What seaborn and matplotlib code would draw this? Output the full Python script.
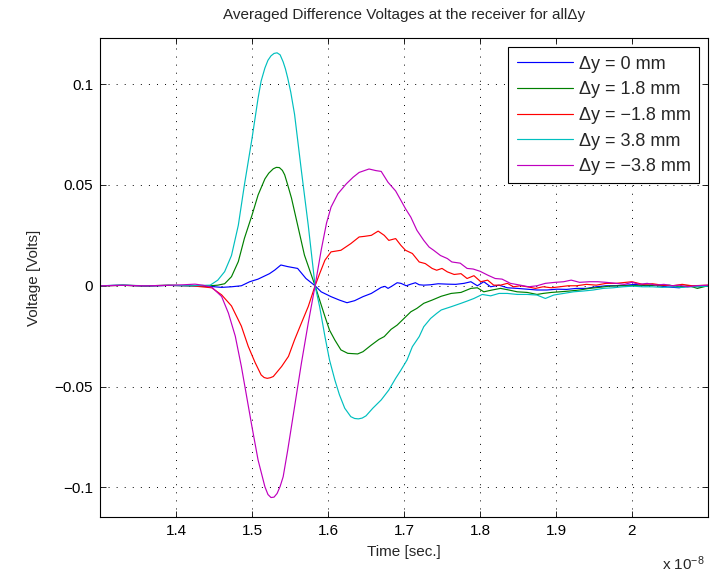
import numpy as np
import pandas as pd
import matplotlib
matplotlib.use("Agg")
import matplotlib.pyplot as plt
import seaborn as sns

# ---------------- data (time in units of 1e-8 s, voltage in V) ----------------
t_0mm = [1.30, 1.33, 1.36, 1.39, 1.42, 1.445, 1.46, 1.473, 1.486, 1.497, 1.508, 1.523, 1.530,
         1.538, 1.547, 1.560, 1.571, 1.583, 1.591, 1.604, 1.615, 1.625, 1.635, 1.646, 1.657,
         1.67, 1.675, 1.679, 1.684, 1.691, 1.696, 1.703, 1.709, 1.715, 1.72, 1.726, 1.735,
         1.745, 1.757, 1.768, 1.779, 1.788, 1.7965, 1.805, 1.814, 1.825, 1.836, 1.849, 1.862,
         1.875, 1.888, 1.901, 1.914, 1.927, 1.94, 1.953, 1.966, 1.979, 1.992, 2.005, 2.018,
         2.031, 2.044, 2.062, 2.075, 2.088, 2.1]
v_0mm = [0.0, 0.0003, -0.0002, 0.0002, 0.0, -0.0003, -0.0008, -0.0005, 0.0, 0.002, 0.0033, 0.006,
         0.0078, 0.0103, 0.0095, 0.0086, 0.0036, 0.0, -0.003, -0.0054, -0.0071, -0.0084, -0.0074,
         -0.0054, -0.0038, -0.0008, -0.0003, -0.0013, -0.0002, 0.0015, 0.0012, 0.0, 0.0008,
         0.0015, 0.0005, 0.0003, 0.0005, 0.0010, 0.0008, 0.0007, 0.0012, 0.002, 0.0, 0.002,
         -0.0005, 0.0003, -0.001, -0.0013, -0.0017, -0.0021, -0.0021, -0.0017, -0.0018, -0.0013,
         -0.0013, -0.0005, 0.0, 0.0, 0.0003, 0.0007, 0.0, 0.0003, -0.0005, -0.001, 0.0, -0.0005, 0.0]

t_p18 = [1.30, 1.33, 1.36, 1.39, 1.42, 1.445, 1.455, 1.464, 1.473, 1.482, 1.490, 1.5, 1.508,
         1.517, 1.522, 1.528, 1.532, 1.536, 1.540, 1.543, 1.547, 1.552, 1.561, 1.569, 1.583,
         1.589, 1.596, 1.602, 1.609, 1.617, 1.626, 1.639, 1.646, 1.657, 1.667, 1.674, 1.683,
         1.691, 1.7, 1.709, 1.717, 1.726, 1.737, 1.749, 1.762, 1.775, 1.788, 1.7965, 1.805,
         1.816, 1.827, 1.838, 1.849, 1.862, 1.875, 1.883, 1.894, 1.905, 1.918, 1.931, 1.944,
         1.957, 1.97, 1.983, 1.997, 2.01, 2.023, 2.036, 2.049, 2.062, 2.075, 2.086, 2.1]
v_p18 = [0.0, 0.0002, 0.0, 0.0002, 0.0, 0.0, 0.0003, 0.001, 0.0045, 0.012, 0.0235, 0.035, 0.045,
         0.053, 0.0558, 0.058, 0.0587, 0.0586, 0.0572, 0.055, 0.050, 0.0434, 0.0285, 0.0152,
         0.0, -0.0071, -0.0153, -0.022, -0.0269, -0.0318, -0.0335, -0.0338, -0.0327, -0.0294,
         -0.0266, -0.0252, -0.0216, -0.0195, -0.0162, -0.0129, -0.0112, -0.0087, -0.0071,
         -0.0052, -0.0038, -0.0033, -0.0013, -0.001, -0.003, -0.0021, -0.0013, -0.0021, -0.003,
         -0.0033, -0.0043, -0.0038, -0.0033, -0.003, -0.0026, -0.0021, -0.0013, -0.0008,
         -0.0002, 0.0, 0.0, 0.0003, 0.0003, 0.0, 0.0003, -0.0005, 0.0, -0.0013, 0.0]

t_m18 = [1.30, 1.33, 1.36, 1.39, 1.42, 1.447, 1.460, 1.473, 1.486, 1.495, 1.504, 1.512, 1.516,
         1.520, 1.524, 1.528, 1.539, 1.548, 1.556, 1.565, 1.574, 1.583, 1.589, 1.596, 1.604,
         1.617, 1.630, 1.641, 1.648, 1.657, 1.666, 1.674, 1.68, 1.689, 1.696, 1.702, 1.711, 1.72,
         1.728, 1.737, 1.743, 1.75, 1.757, 1.766, 1.775, 1.783, 1.792, 1.801, 1.81, 1.818, 1.827,
         1.836, 1.844, 1.853, 1.862, 1.873, 1.883, 1.894, 1.905, 1.916, 1.927, 1.94, 1.953,
         1.966, 1.979, 1.992, 2.0, 2.014, 2.027, 2.04, 2.053, 2.066, 2.079, 2.1]
v_m18 = [0.0, 0.0002, 0.0, 0.0002, 0.0, -0.001, -0.0045, -0.010, -0.020, -0.030, -0.038, -0.0442,
         -0.0455, -0.0459, -0.0456, -0.045, -0.040, -0.035, -0.0268, -0.0185, -0.0103, 0.0,
         0.006, 0.0127, 0.0168, 0.0176, 0.0209, 0.0242, 0.0245, 0.025, 0.0271, 0.025, 0.0225,
         0.0234, 0.020, 0.0176, 0.016, 0.0118, 0.011, 0.0086, 0.0077, 0.0086, 0.0069, 0.0056,
         0.006, 0.0036, 0.005, 0.002, 0.0028, 0.0003, 0.0003, 0.0012, -0.0005, 0.0, -0.0005,
         -0.0013, -0.0005, -0.001, -0.0005, 0.0, 0.0, 0.0007, 0.0003, 0.0012, 0.0012, 0.0017,
         0.002, 0.0007, 0.001, 0.0003, 0.0, 0.0007, 0.0, 0.0003]

t_p38 = [1.30, 1.33, 1.36, 1.39, 1.42, 1.445, 1.455, 1.464, 1.473, 1.482, 1.490, 1.5, 1.508,
         1.512, 1.517, 1.521, 1.525, 1.529, 1.533, 1.537, 1.541, 1.544, 1.547, 1.551, 1.556,
         1.565, 1.574, 1.583, 1.589, 1.596, 1.602, 1.609, 1.615, 1.622, 1.63, 1.635, 1.64,
         1.645, 1.65, 1.659, 1.67, 1.68, 1.689, 1.696, 1.704, 1.711, 1.72, 1.726, 1.735, 1.743,
         1.749, 1.762, 1.775, 1.783, 1.792, 1.803, 1.814, 1.825, 1.836, 1.849, 1.862, 1.875,
         1.886, 1.897, 1.91, 1.923, 1.936, 1.949, 1.962, 1.975, 1.988, 2.001, 2.014, 2.027, 2.04,
         2.053, 2.066, 2.079, 2.1]
v_p38 = [0.0, 0.0003, 0.0, 0.0002, 0.0, 0.0003, 0.0028, 0.007, 0.015, 0.030, 0.050, 0.073, 0.093,
         0.1015, 0.108, 0.1118, 0.1140, 0.1152, 0.1155, 0.1145, 0.111, 0.1075, 0.103, 0.096,
         0.085, 0.057, 0.030, 0.0, -0.0104, -0.0252, -0.0368, -0.0467, -0.054, -0.0607, -0.0649,
         -0.0658, -0.066, -0.0656, -0.0645, -0.0607, -0.0566, -0.0517, -0.0459, -0.0418,
         -0.0368, -0.0302, -0.0252, -0.0203, -0.0162, -0.0137, -0.012, -0.0104, -0.0087,
         -0.0076, -0.0063, -0.0043, -0.005, -0.0038, -0.0038, -0.0043, -0.0043, -0.0046,
         -0.0063, -0.0046, -0.0038, -0.003, -0.0026, -0.0021, -0.0013, -0.001, -0.0005, -0.0002,
         -0.0005, -0.0005, -0.0008, -0.0005, -0.0008, -0.0005, -0.0002]

t_m38 = [1.30, 1.33, 1.36, 1.39, 1.41, 1.425, 1.435, 1.447, 1.460, 1.469, 1.478, 1.486, 1.493,
         1.5, 1.508, 1.517, 1.521, 1.525, 1.529, 1.533, 1.537, 1.541, 1.547, 1.556, 1.565, 1.574,
         1.583, 1.591, 1.598, 1.604, 1.613, 1.624, 1.633, 1.641, 1.654, 1.663, 1.67, 1.679,
         1.689, 1.696, 1.702, 1.709, 1.717, 1.726, 1.733, 1.739, 1.748, 1.757, 1.763, 1.774,
         1.783, 1.791, 1.8, 1.81, 1.82, 1.829, 1.84, 1.853, 1.864, 1.875, 1.886, 1.899, 1.91,
         1.92, 1.931, 1.944, 1.955, 1.966, 1.979, 1.99, 2.0, 2.01, 2.02, 2.031, 2.042, 2.053,
         2.062, 2.073, 2.084, 2.1]
v_m38 = [0.0, 0.0002, 0.0, 0.0002, 0.0005, 0.0008, 0.0003, -0.0007, -0.0053, -0.0136, -0.025,
         -0.040, -0.055, -0.070, -0.0864, -0.0997, -0.1035, -0.1050, -0.1048, -0.103, -0.0995,
         -0.0947, -0.0815, -0.060, -0.0384, -0.0185, 0.0, 0.0176, 0.031, 0.039, 0.0456, 0.0505,
         0.0538, 0.0562, 0.0579, 0.0571, 0.0567, 0.0513, 0.047, 0.0423, 0.0382, 0.034, 0.0275,
         0.0225, 0.0192, 0.0176, 0.015, 0.0135, 0.0118, 0.0112, 0.0086, 0.0083, 0.0072, 0.0053,
         0.0036, 0.0033, 0.0012, 0.0003, -0.0005, 0.0, 0.0012, 0.0017, 0.002, 0.0028, 0.0017,
         0.002, 0.002, 0.0017, 0.0012, 0.0007, 0.0017, 0.0007, 0.0012, 0.0003, 0.0007, 0.0,
         0.0003, -0.0005, 0.0, 0.0003]

series_labels = ["\u0394y = 0 mm", "\u0394y = 1.8 mm", "\u0394y = \u22121.8 mm",
                 "\u0394y = 3.8 mm", "\u0394y = \u22123.8 mm"]
series_colors = [(0, 0, 1), (0, 0.5, 0), (1, 0, 0), (0, 0.75, 0.75), (0.75, 0, 0.75)]
series_t = [t_0mm, t_p18, t_m18, t_p38, t_m38]
series_v = [v_0mm, v_p18, v_m18, v_p38, v_m38]

x_ticks = [1.4, 1.5, 1.6, 1.7, 1.8, 1.9, 2.0]
x_ticklabels = ["1.4", "1.5", "1.6", "1.7", "1.8", "1.9", "2"]
y_ticks = [-0.1, -0.05, 0, 0.05, 0.1]
y_ticklabels = ["\u22120.1", "\u22120.05", "0", "0.05", "0.1"]

# ---------------- style ----------------
sns.set_style("ticks")
plt.rcParams["font.family"] = ["Liberation Sans", "DejaVu Sans"]
plt.rcParams["mathtext.fontset"] = "custom"
plt.rcParams["mathtext.rm"] = "Liberation Sans"
plt.rcParams["mathtext.it"] = "Liberation Sans:italic"
plt.rcParams["mathtext.default"] = "regular"
FS = 11
LFS = 13

fig = plt.figure(figsize=(7.11, 5.72), dpi=100)
ax = fig.add_axes([100 / 711, 1 - 517.3 / 572, 608 / 711, 479 / 572])

for t, v, lab, col in zip(series_t, series_v, series_labels, series_colors):
    df = pd.DataFrame({"t": t, "v": v})
    sns.lineplot(data=df, x="t", y="v", ax=ax, color=col, label=lab, linewidth=0.85,
                 estimator=None, sort=False)

ax.set_xlim(1.3, 2.1)
ax.set_ylim(-0.1148, 0.1227)
ax.set_xticks(x_ticks)
ax.set_xticklabels(x_ticklabels, fontsize=FS)
ax.set_yticks(y_ticks)
ax.set_yticklabels(y_ticklabels, fontsize=FS)
ax.tick_params(direction="in", length=4, width=0.6, top=True, right=True,
               labelsize=FS, pad=5, colors="black")
ax.grid(True, color="black", linewidth=0.7, linestyle=(0, (1, 7.3)))
for s in ax.spines.values():
    s.set_linewidth(0.8)
    s.set_color("black")

ax.set_xlabel("Time [sec.]", fontsize=FS, labelpad=5)
ax.set_ylabel("Voltage [Volts]", fontsize=FS)
ax.yaxis.set_label_coords(-0.097, 0.5)
ax.set_title("Averaged Difference Voltages at the receiver for all\u0394y", fontsize=FS, pad=14)

fig.text(705 / 711, 1 - 564 / 572, "x 10$^{\u22128}$", ha="right", va="center", fontsize=FS)

leg = ax.legend(loc="upper right", bbox_to_anchor=(0.985, 0.981), borderaxespad=0,
                fontsize=LFS, frameon=True, fancybox=False, edgecolor="black", framealpha=1,
                handlelength=3.1, handletextpad=0.35, labelspacing=0.48, borderpad=0.45)
leg.get_frame().set_linewidth(0.8)

fig.savefig("out.png", dpi=100)
